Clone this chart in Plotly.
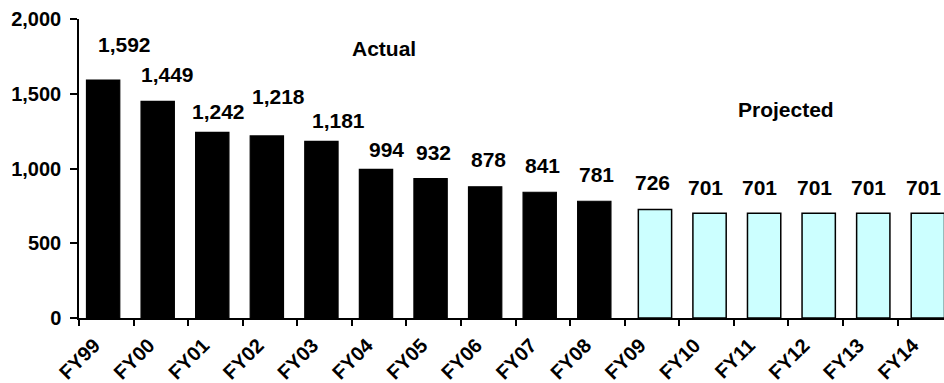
import plotly.graph_objects as go

# Fiscal years and counts
years = ["FY99", "FY00", "FY01", "FY02", "FY03", "FY04", "FY05", "FY06",
         "FY07", "FY08", "FY09", "FY10", "FY11", "FY12", "FY13", "FY14"]
actual_years = years[:10]
actual_values = [1592, 1449, 1242, 1218, 1181, 994, 932, 878, 841, 781]
projected_years = years[10:]
projected_values = [726, 701, 701, 701, 701, 701]

# Pixel nudges for the value labels (horizontal, vertical gap above bar)
label_dx = [18, 7, 3, 8, 14, 7, 0, 0, 0, -1, 0, -1.5, -1.5, -1.5, -1.5, -1.5]
label_gap = [27.5, 19, 12.7, 31, 13, 12.3, 18, 19, 18.7, 18.5, 19.4, 18, 18, 18, 18, 18]

FONT = "Liberation Sans, Arial, sans-serif"
TXT_PAD = 5.5  # distance from text box bottom to digit baseline

fig = go.Figure()
fig.add_trace(go.Bar(
    x=actual_years, y=actual_values,
    marker=dict(color="#000000", line=dict(color="#000000", width=1.2)),
    width=0.61, offset=-0.363, showlegend=False, hoverinfo="x+y",
))
fig.add_trace(go.Bar(
    x=projected_years, y=projected_values,
    marker=dict(color="#CCFFFF", line=dict(color="#000000", width=1.5)),
    width=0.61, offset=-0.251, showlegend=False, hoverinfo="x+y",
))

all_values = actual_values + projected_values
for i, (yr, v) in enumerate(zip(years, all_values)):
    fig.add_annotation(
        x=yr, y=v, text=f"{v:,}", showarrow=False,
        xanchor="center", yanchor="bottom",
        xshift=label_dx[i], yshift=label_gap[i] - TXT_PAD,
        font=dict(family=FONT, size=21, color="#000000", weight="bold"),
    )

fig.add_annotation(x=5.08, y=1801, text="Actual", showarrow=False,
                   xanchor="center", yanchor="middle",
                   font=dict(family=FONT, size=21, color="#000000", weight="bold"))
fig.add_annotation(x=12.45, y=1392, text="Projected", showarrow=False,
                   xanchor="center", yanchor="middle",
                   font=dict(family=FONT, size=21, color="#000000", weight="bold"))

fig.update_layout(
    width=944, height=383,
    margin=dict(l=79, r=0, t=19, b=65, pad=0, autoexpand=False),
    paper_bgcolor="#ffffff", plot_bgcolor="#ffffff",
    barmode="overlay",
    font=dict(family=FONT, color="#000000"),
)
fig.update_xaxes(
    type="category", categoryorder="array", categoryarray=years,
    range=[-0.5, 15.35], automargin=False,
    showline=True, linecolor="#000000", linewidth=1.5,
    ticks="outside", ticklen=6, tickwidth=1.5, tickcolor="#000000",
    tickson="boundaries", tickangle=-45, ticklabelshift=-12,
    ticklabelstandoff=6,
    tickfont=dict(family=FONT, size=20, color="#000000", weight="bold"),
    showgrid=False, zeroline=False,
)
fig.update_yaxes(
    range=[0, 2000], tickvals=[0, 500, 1000, 1500, 2000], tickformat=",",
    automargin=False,
    showline=True, linecolor="#000000", linewidth=1.5,
    ticks="outside", ticklen=7, tickwidth=1.5, tickcolor="#000000",
    tickfont=dict(family=FONT, size=20, color="#000000", weight="bold"),
    ticklabelstandoff=5,
    showgrid=False, zeroline=False,
)

fig.write_html("out.html")
